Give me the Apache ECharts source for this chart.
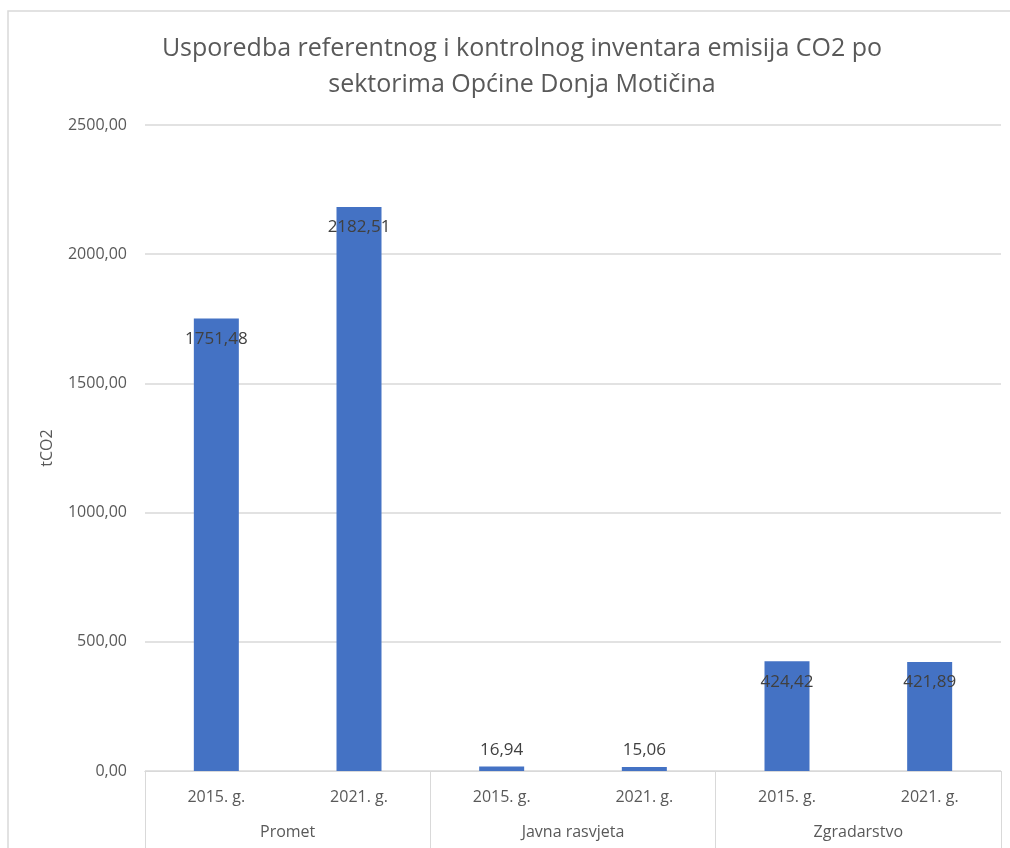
<!DOCTYPE html>
<html>
<head>
<meta charset="utf-8">
<script src="https://cdn.jsdelivr.net/npm/echarts@6/dist/echarts.min.js"></script>
<style>
  html, body { margin: 0; padding: 0; background: #fff; }
  #chart { width: 1010px; height: 848px; }
</style>
</head>
<body>
<div id="chart"></div>
<script>
// Emisije CO2 po sektorima (tCO2), referentna 2015. i kontrolna 2021. godina
const years = ['2015. g.', '2021. g.', '2015. g.', '2021. g.', '2015. g.', '2021. g.'];
const sectors = ['Promet', 'Javna rasvjeta', 'Zgradarstvo'];
const emissions = [1751.48, 2182.51, 16.94, 15.06, 424.42, 421.89];
const yTicks = { min: 0, max: 2500, interval: 500 };

const fmt = v => v.toFixed(2).replace('.', ',');
const textColor = '#595959';
const font = 'Open Sans';

const chart = echarts.init(document.getElementById('chart'));
chart.setOption({
  animation: false,
  textStyle: { fontFamily: font },
  title: {
    text: 'Usporedba referentnog i kontrolnog inventara emisija CO2 po\nsektorima Općine Donja Motičina',
    left: 517,
    textAlign: 'center',
    top: 26,
    textStyle: { fontFamily: font, fontSize: 25, fontWeight: 'normal', color: textColor, lineHeight: 36 }
  },
  graphic: [{
    type: 'rect',
    shape: { x: 8, y: 11, width: 1010, height: 860 },
    style: { fill: 'none', stroke: '#d9d9d9', lineWidth: 1.5 },
    silent: true, z: -1
  }],
  grid: { left: 145, right: 9, top: 125, bottom: 77 },
  xAxis: [{
    type: 'category',
    data: years,
    axisLine: { lineStyle: { color: '#d9d9d9' } },
    axisTick: { show: false },
    axisLabel: { color: textColor, fontSize: 16, margin: 18, interval: 0 }
  }, {
    type: 'category',
    data: sectors,
    position: 'bottom',
    axisLine: { lineStyle: { color: '#d9d9d9' } },
    axisTick: { show: true, length: 80, lineStyle: { color: '#d9d9d9' } },
    axisLabel: { color: textColor, fontSize: 16, margin: 53, interval: 0 }
  }],
  yAxis: {
    type: 'value',
    min: yTicks.min, max: yTicks.max, interval: yTicks.interval,
    name: 'tCO2',
    nameLocation: 'middle',
    nameGap: 90,
    nameTextStyle: { color: textColor, fontSize: 16 },
    axisLine: { show: false },
    axisTick: { show: false },
    axisLabel: { color: textColor, fontSize: 16, margin: 18, formatter: v => fmt(v) },
    splitLine: { lineStyle: { color: '#d9d9d9', width: 1.5 } }
  },
  series: [{
    type: 'bar',
    xAxisIndex: 0,
    barWidth: 45,
    itemStyle: { color: '#4472C4' },
    data: emissions.map(v => ({
      value: v,
      label: {
        show: true,
        position: v > 100 ? 'insideTop' : 'top',
        distance: v > 100 ? 12 : 8,
        color: '#404040',
        fontSize: 17,
        formatter: p => fmt(p.value)
      }
    }))
  }]
});
</script>
</body>
</html>
